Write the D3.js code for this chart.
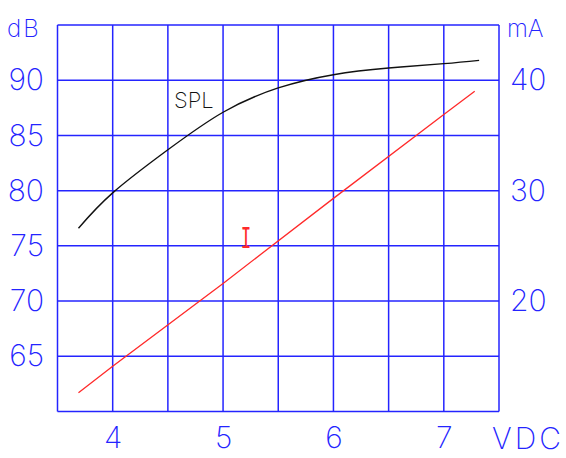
<!DOCTYPE html>
<html>
<head>
<meta charset="utf-8">
<script src="https://cdn.jsdelivr.net/npm/d3@7"></script>
<style>
  body { margin: 0; background: #fff; }
  text { font-family: Inter, "Liberation Sans", sans-serif; font-weight: 200; }
</style>
</head>
<body>
<script>
// values
var voltTicks = [4, 5, 6, 7];
var dbTicks = [65, 70, 75, 80, 85, 90];
var maTicks = [20, 30, 40];
var gridVolts = [3.5, 4, 4.5, 5, 5.5, 6, 6.5, 7, 7.5];
var gridDb = [60, 65, 70, 75, 80, 85, 90, 95];

// SPL curve (dB)
var splVolts = [3.69, 4.0, 4.5, 5.0, 5.5, 6.0, 6.5, 7.0, 7.32];
var splDb = [76.6, 79.8, 83.7, 87.1, 89.3, 90.5, 91.1, 91.5, 91.8];

// current (mA)
var curVolts = [3.69, 4.0, 5.0, 6.0, 7.0, 7.28];
var curMa = [11.7, 14.1, 21.6, 29.3, 36.9, 39.0];

window.onload = function(){

    var W = 566, H = 458;
    var left = 57.5, right = 499, top = 25, bottom = 411.5;
    var blue = '#2424ff';

    var svg = d3.select(document.body)
        .append('svg')
        .attr('width', W)
        .attr('height', H);

    var x = d3.scaleLinear().domain([3.5, 7.5]).range([left, right]);
    var yDb = d3.scaleLinear().domain([60, 95]).range([bottom, top]);
    var yMa = d3.scaleLinear().domain([10, 45]).range([bottom, top]);

    // grid
    var grid = svg.append('g')
        .attr('stroke', blue)
        .attr('stroke-width', 1.5);

    grid.selectAll('line.v')
        .data(gridVolts)
        .enter()
        .append('line')
        .attr('class', 'v')
        .attr('x1', function(d){ return x(d); })
        .attr('x2', function(d){ return x(d); })
        .attr('y1', top)
        .attr('y2', bottom);

    grid.selectAll('line.h')
        .data(gridDb)
        .enter()
        .append('line')
        .attr('class', 'h')
        .attr('x1', left)
        .attr('x2', right)
        .attr('y1', function(d){ return yDb(d); })
        .attr('y2', function(d){ return yDb(d); });

    // axes (labels only, no domain / ticks)
    var fmt = d3.format('d');

    var leftAxis = svg.append('g')
        .attr('transform', 'translate(44,0)')
        .call(d3.axisLeft(yDb).tickValues(dbTicks).tickFormat(fmt).tickSize(0).tickPadding(0));

    var rightAxis = svg.append('g')
        .attr('transform', 'translate(510,0)')
        .call(d3.axisRight(yMa).tickValues(maTicks).tickFormat(fmt).tickSize(0).tickPadding(0));

    var bottomAxis = svg.append('g')
        .attr('transform', 'translate(0,426)')
        .call(d3.axisBottom(x).tickValues(voltTicks).tickFormat(fmt).tickSize(0).tickPadding(0));

    [leftAxis, rightAxis, bottomAxis].forEach(function(a){
        a.select('.domain').remove();
        a.selectAll('text')
            .attr('fill', blue)
            .style('font-size', '30px')
            .style('font-family', 'Inter, "Liberation Sans", sans-serif');
    });
    bottomAxis.selectAll('text').attr('dy', '0.72em');

    // unit labels
    svg.append('text')
        .attr('x', 7).attr('y', 37)
        .attr('fill', blue)
        .style('font-size', '24px')
        .style('letter-spacing', '2px')
        .text('dB');

    svg.append('text')
        .attr('x', 507).attr('y', 37)
        .attr('fill', blue)
        .style('font-size', '24px')
        .text('mA');

    svg.append('text')
        .attr('x', 492).attr('y', 449)
        .attr('fill', blue)
        .style('font-size', '30px')
        .style('letter-spacing', '3px')
        .text('VDC');

    // curves
    var splLine = d3.line()
        .x(function(d, i){ return x(splVolts[i]); })
        .y(function(d){ return yDb(d); })
        .curve(d3.curveNatural);

    svg.append('path')
        .datum(splDb)
        .attr('d', splLine)
        .attr('fill', 'none')
        .attr('stroke', '#111')
        .attr('stroke-width', 1.4);

    var curLine = d3.line()
        .x(function(d, i){ return x(curVolts[i]); })
        .y(function(d){ return yMa(d); });

    svg.append('path')
        .datum(curMa)
        .attr('d', curLine)
        .attr('fill', 'none')
        .attr('stroke', '#ff2a2a')
        .attr('stroke-width', 1.3);

    // series labels
    svg.append('text')
        .attr('x', 174).attr('y', 108)
        .attr('fill', '#111')
        .style('font-size', '22px')
        .text('SPL');

    svg.append('text')
        .attr('transform', 'translate(246,248) scale(0.6,1)')
        .attr('text-anchor', 'middle')
        .attr('fill', '#ff2a2a')
        .style('font-family', '"DejaVu Sans Mono", monospace')
        .style('font-weight', 'normal')
        .style('font-size', '29px')
        .text('I');
}
</script>
</body>
</html>
